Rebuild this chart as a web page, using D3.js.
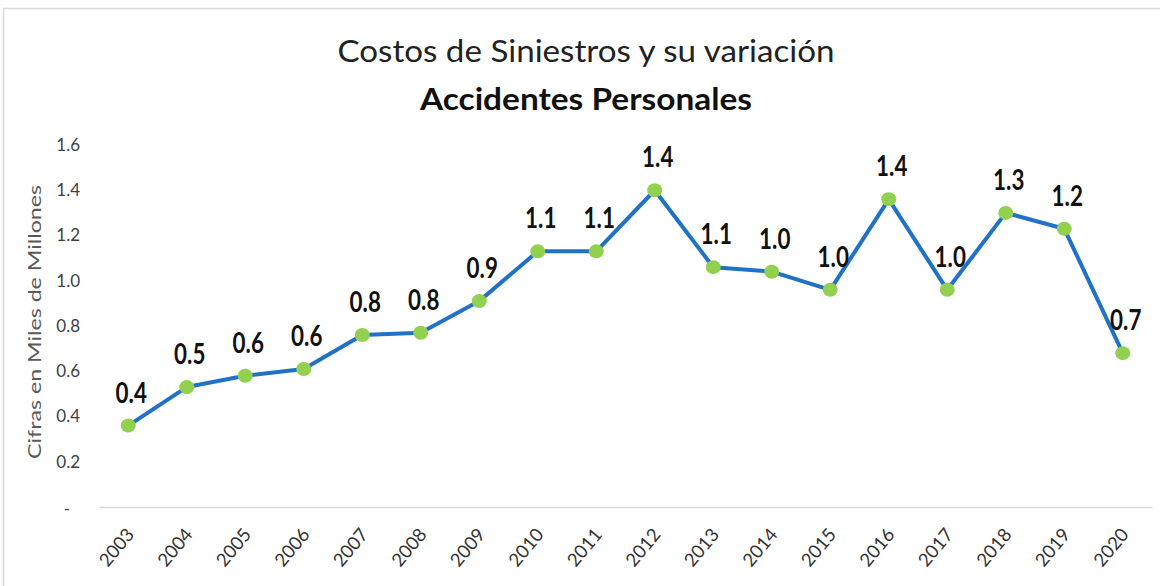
<!DOCTYPE html>
<html><head><meta charset="utf-8">
<script src="https://cdn.jsdelivr.net/npm/d3@7"></script>
<style>
body{margin:0;background:#fff;}
svg{display:block;}
</style></head>
<body>
<script>
const years = ["2003","2004","2005","2006","2007","2008","2009","2010","2011","2012","2013","2014","2015","2016","2017","2018","2019","2020"];
const values = [0.36,0.53,0.58,0.61,0.76,0.77,0.91,1.13,1.13,1.40,1.06,1.04,0.96,1.36,0.96,1.30,1.23,0.68];
const yTicks = [0,0.2,0.4,0.6,0.8,1.0,1.2,1.4,1.6];
const titleText = "Costos de Siniestros y su variación";
const subtitleText = "Accidentes Personales";
const yAxisTitle = "Cifras en Miles de Millones";

const W = 1160, H = 586;
const svg = d3.select("body").append("svg").attr("width", W).attr("height", H);
const font = "Lato, 'Open Sans', sans-serif";

// chart frame (top and left edges visible)
svg.append("path").attr("d", d3.line()([[3.5,H],[3.5,8.5],[W,8.5]]))
  .attr("fill","none").attr("stroke","#d9d9d9").attr("stroke-width",1.5);

const x = d3.scaleBand().domain(years).range([99,1152]);
const y = d3.scaleLinear().domain([0,1.6]).range([507,145]);

// titles
svg.append("text").attr("x",586).attr("y",62).attr("text-anchor","middle")
  .attr("font-family",font).attr("font-size",31).attr("fill","#222")
  .attr("textLength",497).attr("lengthAdjust","spacingAndGlyphs").text(titleText);
svg.append("text").attr("x",586).attr("y",110).attr("text-anchor","middle")
  .attr("font-family",font).attr("font-size",30).attr("font-weight","bold").attr("fill","#111")
  .attr("textLength",332).attr("lengthAdjust","spacingAndGlyphs").text(subtitleText);

// y axis
const yAxis = d3.axisLeft(y).tickValues(yTicks).tickSize(0)
  .tickFormat(d => d === 0 ? "-" : d3.format(".1f")(d));
const gy = svg.append("g").attr("transform","translate(80,0)").call(yAxis);
gy.select(".domain").remove();
gy.selectAll("text").attr("font-family",font).attr("font-size",17).attr("fill","#404040")
  .attr("dx",0).attr("x",0)
  .attr("transform", d => d === 0 ? "translate(-10,2)" : null);

svg.append("text").attr("transform","translate(41,322) rotate(-90)").attr("text-anchor","middle")
  .attr("font-family",font).attr("font-size",17).attr("fill","#595959")
  .attr("textLength",274).attr("lengthAdjust","spacingAndGlyphs").text(yAxisTitle);

// x axis
const xAxis = d3.axisBottom(x).tickSize(0);
const gx = svg.append("g").attr("transform","translate(0,507)").call(xAxis);
gx.select(".domain").attr("stroke","#d9d9d9").attr("stroke-width",1.5);
gx.selectAll("text").attr("font-family",font).attr("font-size",18.5).attr("fill","#333")
  .attr("text-anchor","end").attr("dy",0).attr("y",0)
  .attr("transform","translate(7,28) rotate(-50)");

// line
const line = d3.line().x((d,i)=>x(years[i])+x.bandwidth()/2).y(d=>y(d));
svg.append("path").datum(values).attr("d",line).attr("fill","none")
  .attr("stroke","#1f72c6").attr("stroke-width",4).attr("stroke-linejoin","round");

svg.selectAll("ellipse.pt").data(values).enter().append("ellipse").attr("class","pt")
  .attr("cx",(d,i)=>x(years[i])+x.bandwidth()/2).attr("cy",d=>y(d))
  .attr("rx",7.5).attr("ry",7).attr("fill","#92d050");

const lbls = svg.selectAll("text.lbl").data(values).enter().append("text").attr("class","lbl")
  .attr("x",(d,i)=>x(years[i])+x.bandwidth()/2+3).attr("y",d=>y(d)-23)
  .attr("text-anchor","middle").attr("font-family",font).attr("font-size",28)
  .attr("font-weight","bold").attr("fill","#111")
  .text(d=>d3.format(".1f")(d));
lbls.each(function(){
  const len = this.getComputedTextLength();
  d3.select(this).attr("textLength", len*0.8).attr("lengthAdjust","spacingAndGlyphs");
});
</script>
</body></html>
